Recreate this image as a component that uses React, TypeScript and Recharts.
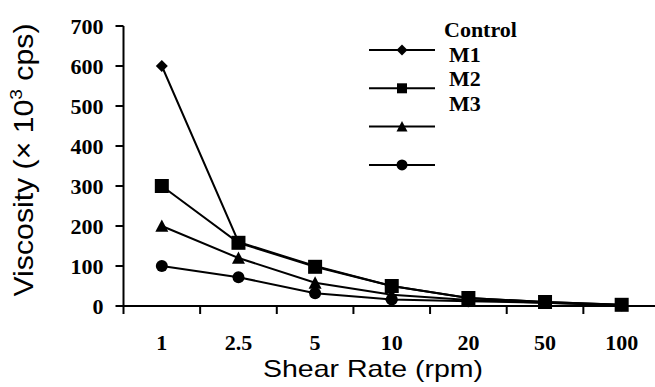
import React from "react"
import { LineChart, Line, XAxis, YAxis, Legend, Label } from "recharts"

// shear rate categories (rpm) and viscosity (x 10^3 cps) per formulation
const shearRates = ["1", "2.5", "5", "10", "20", "50", "100"]
const control = [600, 160, 100, 50, 20, 10, 3]
const m1 = [300, 158, 98, 50, 20, 10, 3]
const m2 = [200, 120, 58, 28, 15, 8, 2]
const m3 = [100, 72, 32, 16, 12, 8, 2]
const yTicks = [0, 100, 200, 300, 400, 500, 600, 700]
const legendNames = ["Control", "M1", "M2", "M3"]

type Shape = "diamond" | "square" | "triangle" | "circle"

const series: { key: string; values: number[]; shape: Shape; size: number }[] = [
  { key: "control", values: control, shape: "diamond", size: 6 },
  { key: "m1", values: m1, shape: "square", size: 7 },
  { key: "m2", values: m2, shape: "triangle", size: 6.5 },
  { key: "m3", values: m3, shape: "circle", size: 6 },
]

// draw order: squares end up on top, as in the original
const drawOrder = ["m3", "m2", "control", "m1"]

const data = shearRates.map((rate, i) => {
  const row: Record<string, number | string> = { rate, pos: i + 0.5 }
  series.forEach((s) => {
    row[s.key] = s.values[i]
  })
  return row
})

// tick marks sit between categories (Excel style)
const bandTicks = shearRates.map((_, i) => i)
bandTicks.push(shearRates.length)

const chartWidth = 660
const yAxisWidth = 123.5
const halfBand = (chartWidth - yAxisWidth) / shearRates.length / 2

const serifStyle = { fontFamily: "Liberation Serif, Times New Roman, serif", fontWeight: 700 }
const sansStyle = { fontFamily: "Liberation Sans, Arial, sans-serif" }

function Marker({ shape, cx, cy, r }: { shape: Shape; cx: number; cy: number; r: number }) {
  if (shape === "diamond")
    return <polygon points={`${cx},${cy - r} ${cx + r},${cy} ${cx},${cy + r} ${cx - r},${cy}`} fill="#000" />
  if (shape === "square") return <rect x={cx - r} y={cy - r} width={2 * r} height={2 * r} fill="#000" />
  if (shape === "triangle")
    return <polygon points={`${cx},${cy - r} ${cx + r},${cy + r * 0.9} ${cx - r},${cy + r * 0.9}`} fill="#000" />
  return <circle cx={cx} cy={cy} r={r} fill="#000" />
}

function CategoryTick(props: any) {
  const { x, y, payload } = props
  const label = shearRates[payload.value]
  if (label === undefined) return null
  return (
    <text x={x + halfBand} y={y + 36} textAnchor="middle" fontSize={22} fill="#000" style={serifStyle}>
      {label}
    </text>
  )
}

function LegendBox() {
  return (
    <svg width={170} height={170}>
      {series.map((s, i) => (
        <g key={s.key}>
          <line x1={9} x2={75} y1={40 + i * 38.3} y2={40 + i * 38.3} stroke="#000" strokeWidth={2} />
          <Marker shape={s.shape} cx={42} cy={40 + i * 38.3} r={s.shape === "square" ? 5 : 5.5} />
        </g>
      ))}
      {legendNames.map((n, i) => (
        <text key={n} x={i === 0 ? 84 : 89} y={27 + i * 24.7} fontSize={22} fill="#000" style={serifStyle}>
          {n}
        </text>
      ))}
    </svg>
  )
}

export default function App() {
  return (
    <div style={{ position: "absolute", left: 0, top: 0, width: 655, height: 387, overflow: "hidden", background: "#fff" }}>
      <LineChart width={chartWidth} height={387} data={data} margin={{ top: 26, right: 0, bottom: 0, left: 0 }}>
        <XAxis
          type="number"
          dataKey="pos"
          domain={[0, shearRates.length]}
          ticks={bandTicks}
          height={81}
          tickSize={8}
          tickMargin={0}
          interval={0}
          axisLine={{ stroke: "#000", strokeWidth: 2 }}
          tickLine={{ stroke: "#000", strokeWidth: 2 }}
          tick={<CategoryTick />}
        >
          <Label
            content={() => (
              <text x={373} y={377} textAnchor="middle" fontSize={24} fill="#000" style={sansStyle} textLength={220} lengthAdjust="spacingAndGlyphs">
                Shear Rate (rpm)
              </text>
            )}
          />
        </XAxis>
        <YAxis
          type="number"
          domain={[0, 700]}
          ticks={yTicks}
          width={yAxisWidth}
          tickSize={8}
          tickMargin={12}
          axisLine={{ stroke: "#000", strokeWidth: 2 }}
          tickLine={{ stroke: "#000", strokeWidth: 2 }}
          tick={{ fill: "#000", fontSize: 22, style: serifStyle }}
        >
          <Label
            content={() => (
              <text
                x={33}
                y={160}
                transform="rotate(-90, 33, 160)"
                textAnchor="middle"
                fontSize={27}
                fill="#000"
                style={sansStyle}
                textLength={273}
                lengthAdjust="spacingAndGlyphs"
              >
                Viscosity (× 10<tspan dy={-11} fontSize={17}>3</tspan>
                <tspan dy={11}> cps)</tspan>
              </text>
            )}
          />
        </YAxis>
        <Legend
          layout="horizontal"
          verticalAlign="middle"
          align="center"
          wrapperStyle={{ position: "absolute", left: 360, top: 10, width: 170, height: 170 }}
          content={() => <LegendBox />}
        />
        {drawOrder.map((k) => {
          const s = series.find((x) => x.key === k)!
          return (
            <Line
              key={s.key}
              dataKey={s.key}
              stroke="#000"
              strokeWidth={2}
              isAnimationActive={false}
              dot={(p: any) => <Marker key={`${s.key}-${p.index}`} shape={s.shape} cx={p.cx} cy={p.cy} r={s.size} />}
              activeDot={false}
            />
          )
        })}
      </LineChart>
    </div>
  )
}
